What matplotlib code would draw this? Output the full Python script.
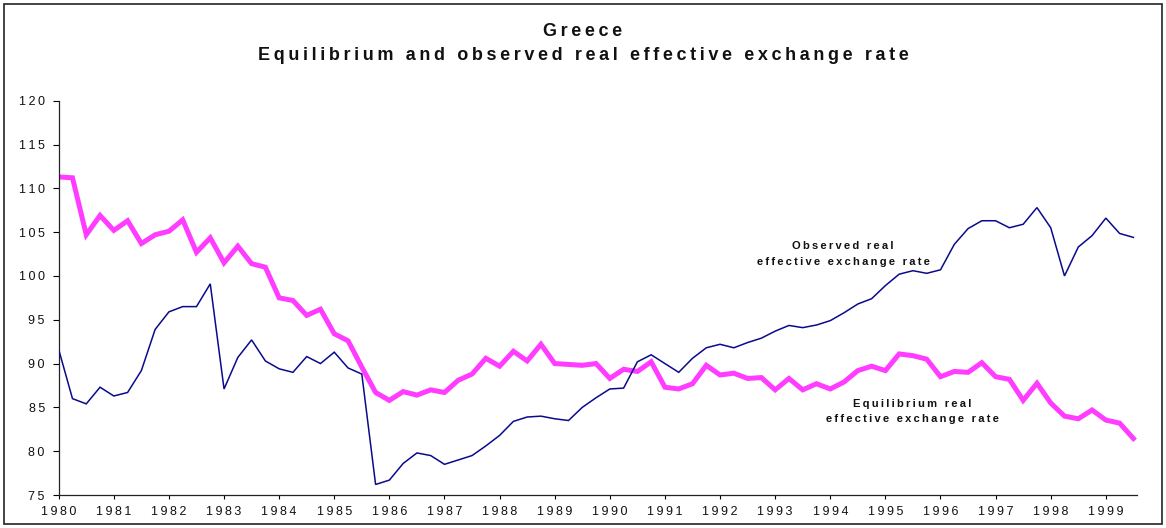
import numpy as np
import matplotlib
matplotlib.use("Agg")
import matplotlib.pyplot as plt
from matplotlib.patches import Rectangle

# Quarterly observations, 1980Q1 - 1999Q3
start_year = 1980
equilibrium = [
    111.3, 111.2, 104.7, 106.9,
    105.2, 106.3, 103.7, 104.7,
    105.1, 106.4, 102.7, 104.35,
    101.5, 103.4, 101.4, 101.0,
    97.5, 97.2, 95.5, 96.2,
    93.4, 92.6, 89.6, 86.7,
    85.8, 86.8, 86.4, 87.0,
    86.7, 88.1, 88.8, 90.6,
    89.7, 91.4, 90.3, 92.2,
    90.0, 89.9, 89.8, 90.0,
    88.3, 89.35, 89.1, 90.2,
    87.3, 87.1, 87.7, 89.8,
    88.7, 88.9, 88.3, 88.4,
    87.0, 88.3, 87.0, 87.7,
    87.1, 87.9, 89.2, 89.7,
    89.2, 91.1, 90.9, 90.5,
    88.5, 89.1, 89.0, 90.1,
    88.5, 88.2, 85.8, 87.75,
    85.5, 84.0, 83.7, 84.7,
    83.55, 83.2, 81.45,
]
observed = [
    91.6, 86.0, 85.4, 87.3,
    86.3, 86.7, 89.2, 93.9,
    95.9, 96.5, 96.5, 99.1,
    87.1, 90.7, 92.7, 90.3,
    89.4, 89.0, 90.8, 90.0,
    91.3, 89.5, 88.8, 76.2,
    76.7, 78.6, 79.8, 79.5,
    78.5, 79.0, 79.5, 80.6,
    81.8, 83.4, 83.9, 84.0,
    83.7, 83.5, 85.0, 86.1,
    87.1, 87.2, 90.2, 91.0,
    90.0, 89.0, 90.6, 91.8,
    92.2, 91.8, 92.4, 92.9,
    93.7, 94.35, 94.1, 94.4,
    94.9, 95.8, 96.8, 97.4,
    98.9, 100.2, 100.6, 100.3,
    100.7, 103.6, 105.4, 106.3,
    106.3, 105.5, 105.9, 107.8,
    105.5, 100.0, 103.3, 104.6,
    106.6, 104.85, 104.4,
]
year_ticks = list(range(1980, 2000))
y_ticks = [75, 80, 85, 90, 95, 100, 105, 110, 115, 120]

title_lines = ["Greece", "Equilibrium and observed real effective exchange rate"]
label_observed = ["Observed real", "effective exchange rate"]
label_equilibrium = ["Equilibrium real", "effective exchange rate"]

FONT = ["Liberation Sans", "DejaVu Sans"]
THIN = "\u2009"


def spaced(s, sep=THIN, word_sep=None):
    """Spread the letters of a string apart."""
    if word_sep is None:
        word_sep = sep + " " + sep
    words = s.split(" ")
    return word_sep.join(sep.join(w) for w in words)


t = start_year + np.arange(len(equilibrium)) / 4.0

W, H = 1166, 528
fig = plt.figure(figsize=(W / 100, H / 100), dpi=100)
fig.patch.set_facecolor("white")

ax = fig.add_axes([58.7 / W, 1 - 495 / H, (1136.7 - 58.7) / W, (495 - 100.7) / H])
ax.plot(t, observed, color="#0a0a8c", lw=1.1, solid_joinstyle="miter", zorder=3)
ax.plot(t, equilibrium, color="#ff3cff", lw=3.6, solid_joinstyle="miter", zorder=2)

ax.set_xlim(1980, 1999.56)
ax.set_ylim(75, 120)
ax.set_xticks(year_ticks)
ax.set_xticklabels([spaced(str(y)) for y in year_ticks], family=FONT, fontsize=9, color="#111111")
ax.set_yticks(y_ticks)
ax.set_yticklabels([spaced(str(v)) for v in y_ticks], family=FONT, fontsize=9, color="#111111")
ax.tick_params(axis="y", direction="out", length=4, width=0.8, pad=6)
ax.tick_params(axis="x", direction="out", length=3, width=0.8, pad=5)
for side in ("top", "right"):
    ax.spines[side].set_visible(False)
for side in ("left", "bottom"):
    ax.spines[side].set_linewidth(0.9)
    ax.spines[side].set_color("#222222")

# Title
fig.text(0.5, 1 - 31 / H, spaced(title_lines[0]), ha="center", va="center",
         family=FONT, fontsize=13, fontweight="bold", color="#111111")
fig.text(0.5, 1 - 55 / H, spaced(title_lines[1]), ha="center", va="center",
         family=FONT, fontsize=13, fontweight="bold", color="#111111")

# Series labels
fig.text(843 / W, 1 - 246 / H, spaced(label_observed[0]), ha="center", va="center",
         family=FONT, fontsize=8, fontweight="bold", color="#111111")
fig.text(843 / W, 1 - 262 / H, spaced(label_observed[1]), ha="center", va="center",
         family=FONT, fontsize=8, fontweight="bold", color="#111111")
fig.text(912 / W, 1 - 404 / H, spaced(label_equilibrium[0]), ha="center", va="center",
         family=FONT, fontsize=8, fontweight="bold", color="#111111")
fig.text(912 / W, 1 - 419 / H, spaced(label_equilibrium[1]), ha="center", va="center",
         family=FONT, fontsize=8, fontweight="bold", color="#111111")

# Outer frame
fig.patches.append(Rectangle((4 / W, 4 / H), (1162 - 4) / W, (524 - 4) / H,
                             transform=fig.transFigure, fill=False,
                             edgecolor="#222222", lw=1.2))

fig.savefig("out.png", dpi=100, facecolor="white")
